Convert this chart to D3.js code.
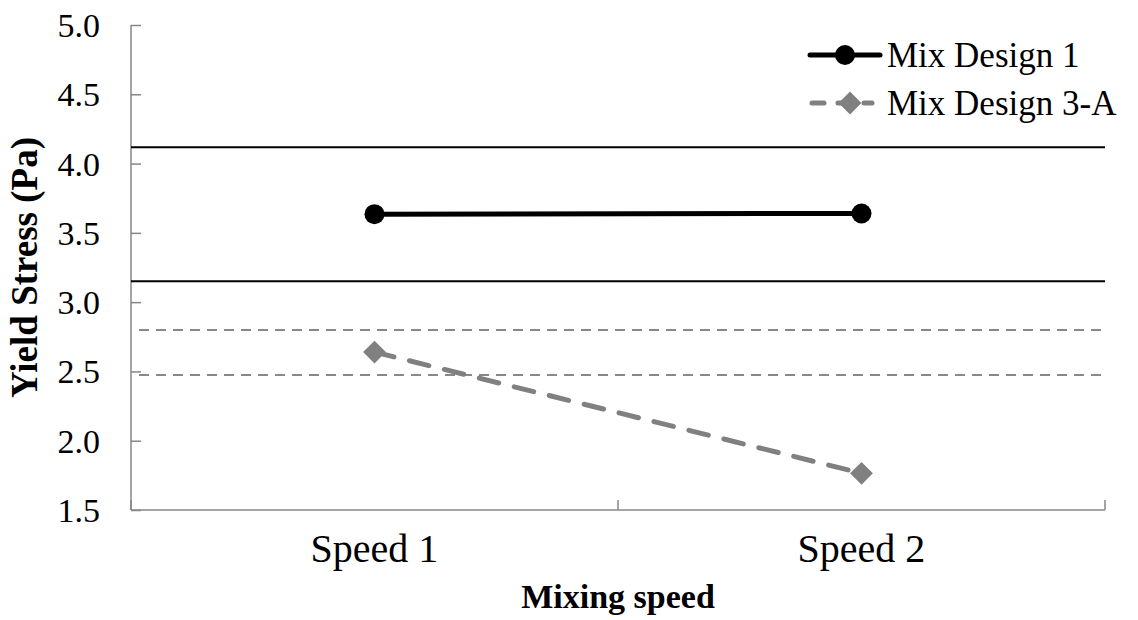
<!DOCTYPE html>
<html>
<head>
<meta charset="utf-8">
<script src="https://cdn.jsdelivr.net/npm/d3@7"></script>
</head>
<body style="margin:0;background:#fff">
<script>
var categories = ["Speed 1", "Speed 2"];
var seriesNames = ["Mix Design 1", "Mix Design 3-A"];
var mix1 = [3.635, 3.64];
var mix3a = [2.64, 1.765];
var yTicks = [1.5, 2.0, 2.5, 3.0, 3.5, 4.0, 4.5, 5.0];
// limit lines
var mix1Limits = [4.117, 3.150];
var mix3aLimits = [2.799, 2.474];

var serif = "Liberation Serif, DejaVu Serif, serif";

var margin = {top: 25, right: 33, bottom: 110, left: 131},
    width = 1138 - margin.left - margin.right,
    height = 620 - margin.top - margin.bottom;

var svg = d3.select("body")
            .append("svg")
            .attr("width", 1138)
            .attr("height", 620)
            .attr("font-family", serif);

var g = svg.append("g")
           .attr("transform", "translate(" + margin.left + "," + margin.top + ")");

var xScale = d3.scaleBand()
               .domain(categories)
               .range([0, width]);

var yScale = d3.scaleLinear()
               .domain([1.5, 5.0])
               .range([height, 0]);

var axisColor = "#878787";

// y axis, ticks point into the plot
var yAxis = g.append("g")
   .call(d3.axisRight(yScale).tickValues(yTicks).tickSize(10).tickFormat(d3.format(".1f")))
   .attr("font-family", serif)
   .attr("font-size", 34);
yAxis.select(".domain").attr("stroke", axisColor).attr("stroke-width", 1.5).attr("d", "M0,0V" + height);
yAxis.selectAll(".tick line").attr("stroke", axisColor).attr("stroke-width", 1.5);
yAxis.selectAll(".tick text")
     .attr("x", -31)
     .attr("text-anchor", "end")
     .attr("dy", "0.34em")
     .attr("fill", "#000");

// x axis with tick marks at the band edges
var xAxis = g.append("g")
   .attr("transform", "translate(0," + height + ")");
xAxis.append("line")
     .attr("x1", 0).attr("x2", width)
     .attr("stroke", axisColor).attr("stroke-width", 1.5);
var edges = [0].concat(categories.map(function(d){ return xScale(d) + xScale.bandwidth(); }));
xAxis.selectAll(".edge")
     .data(edges)
     .enter()
     .append("line")
     .attr("class", "edge")
     .attr("x1", function(d){ return d; })
     .attr("x2", function(d){ return d; })
     .attr("y1", 0).attr("y2", -10)
     .attr("stroke", axisColor).attr("stroke-width", 1.5);
xAxis.selectAll(".cat")
     .data(categories)
     .enter()
     .append("text")
     .attr("class", "cat")
     .attr("x", function(d){ return xScale(d) + xScale.bandwidth() / 2; })
     .attr("y", 52)
     .attr("text-anchor", "middle")
     .attr("font-size", 40)
     .text(function(d){ return d; });

// limit lines
g.selectAll(".lim1")
 .data(mix1Limits)
 .enter()
 .append("line")
 .attr("x1", 0).attr("x2", width)
 .attr("y1", function(d){ return yScale(d); })
 .attr("y2", function(d){ return yScale(d); })
 .attr("stroke", "#000")
 .attr("stroke-width", 2);

g.selectAll(".lim3")
 .data(mix3aLimits)
 .enter()
 .append("line")
 .attr("x1", 8).attr("x2", width)
 .attr("y1", function(d){ return yScale(d); })
 .attr("y2", function(d){ return yScale(d); })
 .attr("stroke", "#888")
 .attr("stroke-width", 2)
 .attr("stroke-dasharray", "10,7");

var cx = function(d, i){ return xScale(categories[i]) + xScale.bandwidth() / 2; };

var line = d3.line()
             .x(cx)
             .y(function(d){ return yScale(d); });

// Mix Design 3-A
g.append("path")
 .datum(mix3a)
 .attr("d", line)
 .attr("fill", "none")
 .attr("stroke", "#808080")
 .attr("stroke-width", 5)
 .attr("stroke-linecap", "round")
 .attr("stroke-dasharray", "20,16");

var diamond = d3.symbol().type(d3.symbolSquare).size(260);
g.selectAll(".dia")
 .data(mix3a)
 .enter()
 .append("path")
 .attr("d", diamond)
 .attr("transform", function(d, i){ return "translate(" + cx(d, i) + "," + yScale(d) + ") rotate(45)"; })
 .attr("fill", "#808080");

// Mix Design 1
g.append("path")
 .datum(mix1)
 .attr("d", line)
 .attr("fill", "none")
 .attr("stroke", "#000")
 .attr("stroke-width", 5);

g.selectAll(".dot")
 .data(mix1)
 .enter()
 .append("circle")
 .attr("cx", cx)
 .attr("cy", function(d){ return yScale(d); })
 .attr("r", 10)
 .attr("fill", "#000");

// axis titles
svg.append("text")
   .attr("x", margin.left + width / 2)
   .attr("y", 608)
   .attr("text-anchor", "middle")
   .attr("font-size", 34)
   .attr("font-weight", "bold")
   .text("Mixing speed");

svg.append("text")
   .attr("transform", "translate(37," + (margin.top + height / 2) + ") rotate(-90)")
   .attr("text-anchor", "middle")
   .attr("font-size", 37)
   .attr("font-weight", "bold")
   .text("Yield Stress (Pa)");

// legend
var legend = svg.append("g")
                .attr("transform", "translate(810,0)");

var legendY = [55, 103];

legend.append("line")
      .attr("x1", 0).attr("x2", 70)
      .attr("y1", legendY[0]).attr("y2", legendY[0])
      .attr("stroke", "#000").attr("stroke-width", 5).attr("stroke-linecap", "round");
legend.append("circle")
      .attr("cx", 35).attr("cy", legendY[0]).attr("r", 10).attr("fill", "#000");

legend.append("line")
      .attr("x1", 2).attr("x2", 62)
      .attr("y1", legendY[1]).attr("y2", legendY[1])
      .attr("stroke", "#808080").attr("stroke-width", 5).attr("stroke-linecap", "round")
      .attr("stroke-dasharray", "12,14");
legend.append("path")
      .attr("d", diamond)
      .attr("transform", "translate(40," + legendY[1] + ") rotate(45)")
      .attr("fill", "#808080");

legend.selectAll("text")
      .data(seriesNames)
      .enter()
      .append("text")
      .attr("x", 77)
      .attr("y", function(d, i){ return legendY[i]; })
      .attr("dy", "0.35em")
      .attr("font-size", 35)
      .text(function(d){ return d; });
</script>
</body>
</html>
